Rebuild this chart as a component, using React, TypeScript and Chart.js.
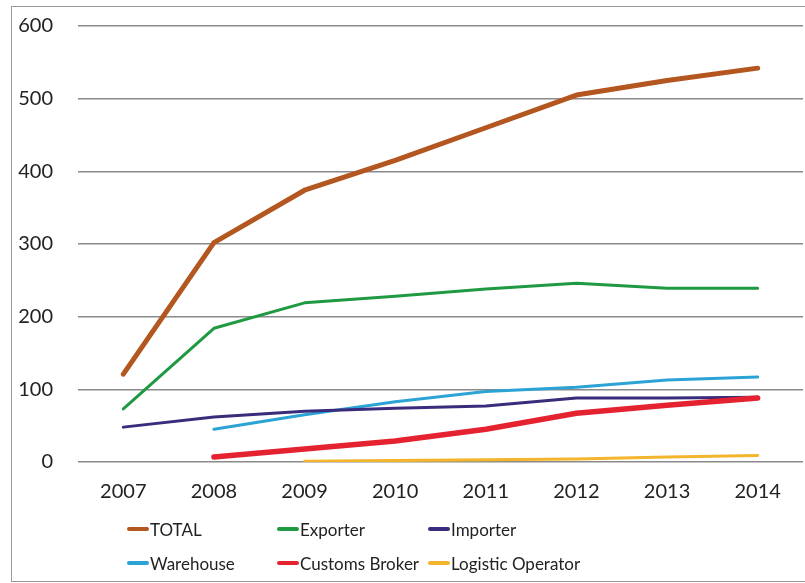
import React, { useEffect, useRef } from "react";
import { Chart, registerables } from "chart.js";

Chart.register(...registerables);

const years = ["2007", "2008", "2009", "2010", "2011", "2012", "2013", "2014"];
const total = [121, 302, 374, 415, 460, 505, 525, 542];
const exporter = [73, 184, 219, 228, 238, 246, 239, 239];
const importer = [48, 62, 70, 74, 77, 88, 88, 89];
const warehouse = [null, 45, 65, 83, 97, 103, 113, 117];
const customsBroker = [null, 7, 18, 29, 45, 67, 78, 88];
const logisticOperator = [null, null, 1, 2, 3, 4, 7, 9];

const seriesNames = ["TOTAL", "Exporter", "Importer", "Warehouse", "Customs Broker", "Logistic Operator"];
const seriesValues = [total, exporter, importer, warehouse, customsBroker, logisticOperator];
const seriesColors = ["#B4561F", "#1F9A43", "#3B2B7C", "#2BA3D5", "#E52330", "#F2B52C"];
const seriesWidths = [5, 3, 3, 3, 5.5, 3];

const FONT = "Lato, 'Open Sans', sans-serif";

export default function App() {
  const ref = useRef<HTMLCanvasElement | null>(null);

  useEffect(() => {
    if (!ref.current) return;
    const chart = new Chart(ref.current, {
      type: "line",
      data: {
        labels: years,
        datasets: seriesNames.map((name, i) => ({
          label: name,
          data: seriesValues[i],
          borderColor: seriesColors[i],
          backgroundColor: seriesColors[i],
          borderWidth: seriesWidths[i],
          pointRadius: 0,
          tension: 0,
          spanGaps: false,
          borderCapStyle: "round",
          borderJoinStyle: "round",
          order: i === 0 ? 0 : i === 4 ? 1 : i + 1,
        })),
      },
      options: {
        responsive: false,
        animation: false,
        layout: { padding: { top: 26, right: 2, left: 0, bottom: 0 } },
        plugins: { legend: { display: false }, tooltip: { enabled: false } },
        scales: {
          x: {
            offset: true,
            grid: { display: false },
            border: { display: false },
            ticks: { color: "#222", font: { family: FONT, size: 20 }, padding: 10, maxRotation: 0 },
            afterFit: (s: any) => {
              s.height = 121;
              s.paddingLeft = 0;
              s.paddingRight = 0;
            },
          },
          y: {
            min: 0,
            max: 600,
            ticks: { stepSize: 100, color: "#222", font: { family: FONT, size: 20 }, padding: 25 },
            grid: { color: "#8a8a8a", lineWidth: 1.5, drawTicks: false },
            border: { display: false },
            afterFit: (s: any) => {
              s.width = 78;
              s.paddingTop = 0;
              s.paddingBottom = 0;
            },
          },
        },
      },
    });
    return () => chart.destroy();
  }, []);

  const legendCols = [127, 277, 428];
  const legendRows = [529, 563];

  return (
    <div
      style={{
        position: "fixed",
        left: 0,
        top: 0,
        width: 805,
        height: 583,
        background: "#fff",
        overflow: "hidden",
      }}
    >
      <div
        style={{
          position: "absolute",
          left: 11,
          top: 6,
          width: 840,
          height: 574,
          border: "1.5px solid #9a9a9a",
        }}
      />
      <canvas
        ref={ref}
        width={805}
        height={583}
        style={{ position: "absolute", left: 0, top: 0, width: 805, height: 583 }}
      />
      {seriesNames.map((name, i) => (
        <div
          key={name}
          style={{
            position: "absolute",
            left: legendCols[i % 3],
            top: legendRows[Math.floor(i / 3)] - 12,
            height: 24,
            display: "flex",
            alignItems: "center",
            fontFamily: FONT,
            fontSize: 17,
            color: "#222",
            whiteSpace: "nowrap",
          }}
        >
          <span
            style={{
              display: "inline-block",
              width: 22,
              height: 4,
              borderRadius: 2,
              background: seriesColors[i],
              marginRight: 1,
            }}
          />
          <span>{name}</span>
        </div>
      ))}
    </div>
  );
}
